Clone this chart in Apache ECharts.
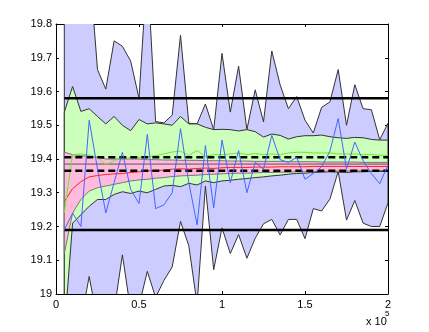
<!DOCTYPE html>
<html>
<head>
<meta charset="utf-8">
<script src="https://cdn.jsdelivr.net/npm/echarts@6/dist/echarts.min.js"></script>
<style>
  html, body { margin: 0; padding: 0; background: #fff; }
  #chart { width: 429px; height: 332px; }
</style>
</head>
<body>
<div id="chart"></div>
<script>
// sample positions
var xs = [5000, 10000, 15000, 20000, 25000, 30000, 35000, 40000, 45000, 50000,
  55000, 60000, 65000, 70000, 75000, 80000, 85000, 90000, 95000, 100000,
  105000, 110000, 115000, 120000, 125000, 130000, 135000, 140000, 145000, 150000,
  155000, 160000, 165000, 170000, 175000, 180000, 185000, 190000, 195000, 200000];

// wide (lavender) band
var lavHi = [20.5, 20.3, 20.1, 19.98, 19.665, 19.607, 19.75, 19.734, 19.69, 19.58,
  19.97, 19.511, 19.507, 19.53, 19.767, 19.506, 19.504, 19.563, 19.487, 19.713,
  19.539, 19.675, 19.487, 19.605, 19.51, 19.72, 19.62, 19.549, 19.585, 19.515,
  19.477, 19.553, 19.569, 19.665, 19.5, 19.62, 19.549, 19.546, 19.457, 19.506];
var lavLo = [18.3, 18.6, 18.92, 19.052, 18.92, 18.85, 18.95, 19.116, 18.95, 18.965,
  19.067, 18.99, 19.04, 19.08, 19.215, 19.143, 18.97, 19.32, 19.072, 19.196,
  19.12, 19.176, 19.106, 19.165, 19.208, 19.221, 19.175, 19.221, 19.221, 19.164,
  19.253, 19.246, 19.281, 19.363, 19.219, 19.277, 19.21, 19.2, 19.2, 19.27];

// middle (green) band
var grHi = [19.539, 19.615, 19.541, 19.549, 19.526, 19.504, 19.526, 19.5, 19.484, 19.517,
  19.504, 19.507, 19.504, 19.5, 19.526, 19.504, 19.504, 19.494, 19.487, 19.488,
  19.487, 19.483, 19.487, 19.481, 19.465, 19.474, 19.47, 19.459, 19.466, 19.469,
  19.469, 19.471, 19.466, 19.463, 19.461, 19.464, 19.463, 19.458, 19.456, 19.456];
var grLo = [18.89, 19.21, 19.235, 19.26, 19.28, 19.28, 19.295, 19.303, 19.298, 19.305,
  19.3, 19.31, 19.32, 19.322, 19.318, 19.328, 19.323, 19.335, 19.33, 19.335,
  19.337, 19.34, 19.342, 19.345, 19.347, 19.35, 19.352, 19.355, 19.357, 19.358,
  19.36, 19.361, 19.362, 19.361, 19.36, 19.362, 19.362, 19.363, 19.363, 19.363];

// narrow (pink) band
var pkHi = [19.42, 19.413, 19.41, 19.408, 19.405, 19.4, 19.4, 19.4, 19.4, 19.4,
  19.398, 19.398, 19.397, 19.397, 19.396, 19.396, 19.396, 19.395, 19.395, 19.395,
  19.394, 19.394, 19.394, 19.393, 19.393, 19.393, 19.393, 19.392, 19.392, 19.392,
  19.392, 19.391, 19.391, 19.391, 19.391, 19.391, 19.39, 19.39, 19.39, 19.39];
var pkLo = [19.12, 19.24, 19.28, 19.305, 19.315, 19.32, 19.325, 19.33, 19.335, 19.338,
  19.34, 19.343, 19.345, 19.348, 19.35, 19.351, 19.352, 19.354, 19.355, 19.356,
  19.357, 19.358, 19.358, 19.359, 19.36, 19.36, 19.361, 19.361, 19.362, 19.362,
  19.363, 19.363, 19.364, 19.364, 19.364, 19.365, 19.365, 19.365, 19.366, 19.366];

// lines
var redLine = [19.274, 19.312, 19.333, 19.347, 19.351, 19.354, 19.356, 19.357, 19.36, 19.362,
  19.365, 19.366, 19.367, 19.37, 19.371, 19.37, 19.372, 19.373, 19.372, 19.374,
  19.375, 19.375, 19.375, 19.376, 19.376, 19.376, 19.377, 19.377, 19.377, 19.377,
  19.378, 19.378, 19.378, 19.378, 19.378, 19.378, 19.378, 19.378, 19.378, 19.378];
var greenLine = [19.24, 19.413, 19.415, 19.412, 19.405, 19.383, 19.395, 19.403, 19.403, 19.405,
  19.407, 19.41, 19.415, 19.421, 19.423, 19.411, 19.425, 19.408, 19.413, 19.413,
  19.415, 19.418, 19.413, 19.416, 19.413, 19.415, 19.413, 19.418, 19.42, 19.42,
  19.418, 19.418, 19.418, 19.415, 19.415, 19.415, 19.413, 19.413, 19.411, 19.411];
var blueLine = [19.19, 19.24, 19.2, 19.515, 19.37, 19.24, 19.33, 19.42, 19.31, 19.268,
  19.473, 19.253, 19.264, 19.3, 19.49, 19.33, 19.205, 19.44, 19.255, 19.456,
  19.33, 19.425, 19.3, 19.39, 19.37, 19.47, 19.398, 19.39, 19.405, 19.34,
  19.357, 19.377, 19.423, 19.52, 19.37, 19.45, 19.395, 19.357, 19.327, 19.382];

// horizontal reference levels
var solidLevels = [19.58, 19.19];
var dashLevels = [19.405, 19.365];
var centerLevel = 19.385;

function pairs(vals) {
  var out = [];
  for (var i = 0; i < xs.length; i++) out.push([xs[i], vals[i]]);
  return out;
}
function level(v) {
  return [[xs[0], v], [xs[xs.length - 1], v]];
}

// filled band between lo and hi, outlined like a matlab patch
function band(name, lo, hi, fill, edge, z) {
  return {
    name: name, type: "custom", z: z, clip: true,
    data: [[xs[0], lo[0]]],
    renderItem: function (params, api) {
      var pts = [];
      for (var i = 0; i < xs.length; i++) pts.push(api.coord([xs[i], hi[i]]));
      for (var j = xs.length - 1; j >= 0; j--) pts.push(api.coord([xs[j], lo[j]]));
      var cs = params.coordSys;
      return {
        type: "polygon",
        shape: { points: pts },
        style: { fill: fill, stroke: edge, lineWidth: 1 },
        clipPath: { type: "rect", shape: { x: cs.x, y: cs.y, width: cs.width, height: cs.height } },
      };
    },
  };
}

var chart = echarts.init(document.getElementById("chart"));

var series = [
  band("lav", lavLo, lavHi, "#ccccff", "#333333", 2),
  band("gr", grLo, grHi, "#ccffbb", "#333333", 3),
  band("pk", pkLo, pkHi, "#ffbbdd", "#777777", 4),
];

series.push({
  name: "center", type: "line", data: level(centerLevel),
  symbol: "none", lineStyle: { color: "#555", width: 1 }, z: 9,
});
series.push({
  name: "red", type: "line", data: pairs(redLine),
  symbol: "none", lineStyle: { color: "#ff2020", width: 1 }, z: 10,
});
series.push({
  name: "green", type: "line", data: pairs(greenLine),
  symbol: "none", lineStyle: { color: "#66ee22", width: 1 }, z: 10,
});
solidLevels.forEach(function (v, i) {
  series.push({
    name: "solid" + i, type: "line", data: level(v),
    symbol: "none", lineStyle: { color: "#000", width: 2.5 }, z: 11,
  });
});
dashLevels.forEach(function (v, i) {
  series.push({
    name: "dash" + i, type: "line", data: level(v),
    symbol: "none", lineStyle: { color: "#000", width: 2.5, type: [7, 4] }, z: 11,
  });
});
series.push({
  name: "blue", type: "line", data: pairs(blueLine),
  symbol: "none", lineStyle: { color: "#4466ff", width: 1 }, z: 12,
});

var font = "Liberation Sans, Arial, sans-serif";
var axisCommon = {
  axisLine: { show: true, onZero: false, lineStyle: { color: "#000", width: 1 } },
  axisTick: { show: true, inside: true, length: 3, lineStyle: { color: "#000" } },
  splitLine: { show: false },
};

var option = {
  animation: false,
  backgroundColor: "#fff",
  grid: { left: 56, right: 41, top: 24, bottom: 38 },
  xAxis: [
    Object.assign({
      type: "value", position: "bottom", min: 0, max: 200000, interval: 50000,
      axisLabel: {
        color: "#000", fontSize: 11, fontFamily: font, margin: 5,
        formatter: function (v) { return String(v / 100000); },
      },
    }, axisCommon),
    Object.assign({
      type: "value", position: "top", min: 0, max: 200000, interval: 50000,
      axisLabel: { show: false },
    }, axisCommon),
  ],
  yAxis: [
    Object.assign({
      type: "value", position: "left", min: 19, max: 19.8, interval: 0.1,
      axisLabel: {
        color: "#000", fontSize: 11, fontFamily: font, margin: 4,
        formatter: function (v) { return String(Number(v.toFixed(1))); },
      },
    }, axisCommon),
    Object.assign({
      type: "value", position: "right", min: 19, max: 19.8, interval: 0.1,
      axisLabel: { show: false },
    }, axisCommon),
  ],
  graphic: [
    { type: "text", left: 366, top: 316, style: { text: "x 10", fontSize: 11, fontFamily: font, fill: "#000" } },
    { type: "text", left: 385, top: 310, style: { text: "5", fontSize: 8, fontFamily: font, fill: "#000" } },
  ],
  series: series,
};

chart.setOption(option);
</script>
</body>
</html>
